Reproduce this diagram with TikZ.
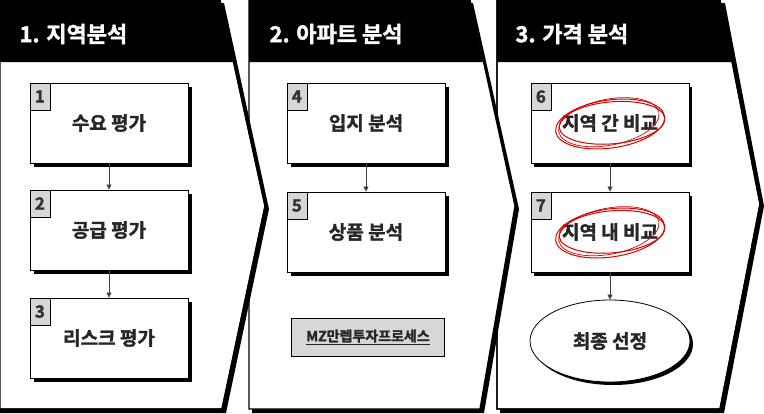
\documentclass[tikz,border=0pt]{standalone}
\usepackage{fontspec}
\setmainfont{Noto Sans CJK KR Bold}[FakeBold=1.6]
\usetikzlibrary{shapes.geometric,arrows.meta}
\definecolor{numgray}{RGB}{215,215,215}
\tikzset{
  panel/.style={draw=black,line width=1.3pt,fill=white},
  shadow/.style={fill=black},
  boxs/.style={draw=black,line width=0.8pt,fill=white,minimum width=158pt,minimum height=80pt,inner sep=0pt,font=\fontsize{19}{22}\selectfont,text=black!85},
  numb/.style={draw=black,line width=0.6pt,fill=numgray,minimum width=20pt,minimum height=27pt,inner sep=0pt,anchor=north west,font=\fontsize{17}{18}\selectfont,text=black!80,text depth=0pt},
  title/.style={anchor=west,text=white,font=\fontsize{22}{24}\selectfont},
  conn/.style={draw=black!75,line width=0.6pt,-{Triangle[length=5pt,width=5pt]}},
  scrib/.style={draw=red!85!black,line width=1pt},
}
\begin{document}
\begin{tikzpicture}[x=1pt,y=-1pt]
\useasboundingbox (0,0) rectangle (764,413);
% panel 3
\fill[shadow] (500,3) -- (725,3) -- (764,206) -- (724,413) -- (500,413) -- cycle;
\draw[panel] (497,0) -- (720,0) -- (760,204) -- (720,409) -- (497,409) -- cycle;
\fill (497,0) -- (720,0) -- (732,62) -- (497,62) -- cycle;
\draw[line width=1.3pt] (497,0) -- (720,0) -- (760,204) -- (720,409) -- (497,409) -- cycle;
% panel 2
\fill[shadow] (252,3) -- (473,3) -- (519,209) -- (484,413) -- (252,413) -- cycle;
\draw[panel] (249,0) -- (470,0) -- (515,206) -- (480,409) -- (249,409) -- cycle;
\fill (249,0) -- (470,0) -- (483,62) -- (249,62) -- cycle;
% panel 1
\fill[shadow] (0,3) -- (224,3) -- (269,209) -- (226,413) -- (0,413) -- cycle;
\draw[panel] (0,0) -- (220,0) -- (265,206) -- (222,409) -- (0,409) -- cycle;
\fill (0,0) -- (220,0) -- (233,62) -- (0,62) -- cycle;
\draw[line width=1.3pt] (0,0) -- (220,0) -- (265,206) -- (222,409) -- (0,409);
% titles
\node[title] (t1) at (16,34) {1. 지역분석};
\node[title] (t2) at (266,34) {2. 아파트 분석};
\node[title] (t3) at (512,34) {3. 가격 분석};
% boxes with shadows
\foreach \x/\y in {30/83,30/190,30/298,287/83,287/192,530/83,530/192}{
  \fill (\x+4,\y+4) rectangle (\x+162,\y+84);
}
\node[boxs] (b1) at (109,123) {수요 평가};
\node[boxs] (b2) at (109,230) {공급 평가};
\node[boxs] (b3) at (109,338) {리스크 평가};
\node[boxs] (b4) at (366,123) {입지 분석};
\node[boxs] (b5) at (366,232) {상품 분석};
\node[boxs] (b6) at (610,123) {지역 간 비교};
\node[boxs] (b7) at (610,232) {지역 내 비교};
\foreach \b/\n in {b1/1,b2/2,b3/3,b4/4,b5/5,b6/6,b7/7}{
  \node[numb] (n\n) at (\b.north west) {\n};
}
\fill (613,344) ellipse [x radius=80, y radius=41];
\node[ellipse,draw=black,line width=0.8pt,fill=white,minimum width=160pt,minimum height=82pt,inner sep=0pt,font=\fontsize{19}{22}\selectfont,text=black!85] (b8) at (610,341) {최종 선정};
\node[draw=black,line width=0.8pt,fill=numgray,minimum width=153pt,minimum height=38pt,inner sep=0pt,font=\fontsize{14}{16}\selectfont,text=black!85] (mz) at (368,337) {\underline{MZ만렙투자프로세스}};
% connectors
\draw[conn] (b1) -- (b2);
\draw[conn] (b2) -- (b3);
\draw[conn] (b4) -- (b5);
\draw[conn] (b6) -- (b7);
\draw[conn] (b7) -- (b8);
% red scribbles
\foreach \b in {b6,b7}{
  \draw[scrib,rotate around={8:(\b)}] ([yshift=-1pt]\b.center) ellipse [x radius=55, y radius=24];
  \draw[scrib,rotate around={5:(\b)}] ([xshift=2pt]\b.center) ellipse [x radius=53, y radius=21];
  \draw[scrib,line width=0.7pt,rotate around={11:(\b)}] ([xshift=-1pt,yshift=1pt]\b.center) ellipse [x radius=51, y radius=23];
}
\end{tikzpicture}
\end{document}
